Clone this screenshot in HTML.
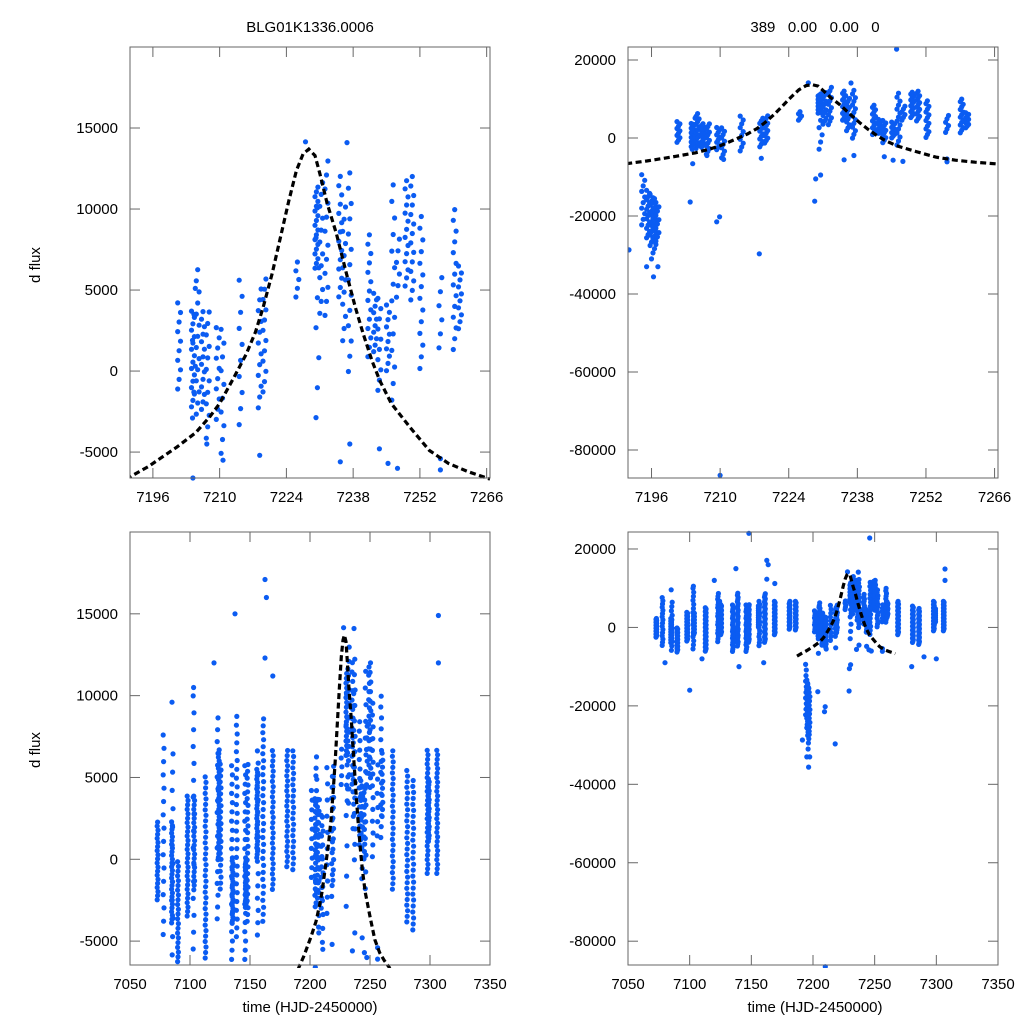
<!DOCTYPE html>
<html><head><meta charset="utf-8"><style>
html,body{margin:0;padding:0;background:#fff;width:1024px;height:1024px;overflow:hidden;}
svg{display:block;}
svg text{font-family:"Liberation Sans",sans-serif;font-size:15px;fill:#000;}
</style></head><body>
<svg id="chart" width="1024" height="1024" viewBox="0 0 1024 1024" xmlns="http://www.w3.org/2000/svg">
<rect x="0" y="0" width="1024" height="1024" fill="#fff"/>
<text x="310" y="32" text-anchor="middle">BLG01K1336.0006</text>
<text x="815" y="32" text-anchor="middle" xml:space="preserve">389   0.00   0.00   0</text>
<text x="40" y="265" text-anchor="middle" transform="rotate(-90 40 265)">d flux</text>
<text x="40" y="750" text-anchor="middle" transform="rotate(-90 40 750)">d flux</text>
<text x="310" y="1012" text-anchor="middle">time (HJD-2450000)</text>
<text x="815" y="1012" text-anchor="middle">time (HJD-2450000)</text>
</svg>
<script>
// nightly clusters: time, low value, high value, count
const nightT=[7073,7078,7085,7085.5,7090,7098,7103,7103.5,7113,7123,7124,7125.5,7135,7135.5,7139,7146,7146.5,7148,7156,7156.5,7161,7169,7181,7186,
7194.3,7195.3,7196.0,7196.6,7197.2,
7201.5,7204.4,7204.6,7205.4,7206.5,7207.5,7209.6,7210.6,7214.4,7218.4,7219.4,7226.3,7230.3,7230.5,7231.3,7232.4,7235.3,7236.1,7237.3,7241.4,7242.6,7243.5,7245.3,7246.4,7247.4,7249.2,7250.4,7252.3,7256.3,7259.3,7260.4,
7269,7281,7286,7298,7299,7306];
const nightLo=[-2600,-5000,-4000,-6400,-6400,-3600,-6000,-2000,-6200,-4000,0,-2000,-6400,-4000,-5000,-6400,-3000,-4000,0,-5000,-4000,-2000,-600,-800,
-23000,-26000,-28000,-30000,-27000,
-1400,-2400,-3700,-3000,-2600,-4500,-3300,-5500,-3800,-2600,-1600,4300,6200,-3800,3200,3000,4300,1500,-500,600,1000,-1500,-200,-2300,4200,5000,4100,-200,1000,1000,2400,
-2000,-4000,-4500,-1000,1000,-1000];
const nightHi=[2400,8000,2400,7000,0,4000,10500,4000,5200,9000,6800,6000,6000,0,9000,6000,0,6000,5600,7000,8800,6800,6800,6800,
-8700,-13000,-14000,-15000,-16000,
4500,3900,5900,6600,3900,4000,3000,3000,6100,5400,6000,7000,11500,11000,12000,13400,12300,10500,12700,8700,5000,4800,4300,12000,8500,12000,12300,9900,6200,10300,6700,
6800,5600,5000,6800,5000,6800];
const nightN=[20,16,28,12,22,28,16,22,34,18,30,22,22,22,26,22,24,24,28,16,30,28,24,22,
10,16,16,14,10,
10,16,6,14,14,12,10,10,10,12,12,5,18,8,12,12,14,12,14,14,10,10,10,14,6,14,14,14,6,14,10,
26,28,26,28,22,28];
// isolated points
const outT=[7195,7196.4,7196,7197.3,7236.7,7204.4,7207.3,7210.7,7218.4,7235.3,7237.3,7243.5,7245.3,7247.3,7256.3,7256.3,7203.9,7209.3,7209.9,7229.3,7229.5,7230.5,7218,7191.4,7210,7246,7148,7100,
7162.5,7163.7,7137.5,7307,7307,7228,7103,7085,7162.5,7169,7080,7110,7140,7160,7300,7290,7280,7120];
const outV=[-33000,-35600,-31000,-33000,14100,-6600,-4500,-5500,-5200,-5600,-4500,-4800,-5700,-6000,-5400,-6100,-16400,-21500,-20200,-16200,-10500,-9500,-29700,-28700,-86500,22800,24000,-16000,
17100,16000,15000,14900,12000,14150,10500,9600,12300,11200,-9000,-8000,-10000,-9000,-8000,-7500,-10000,12000];
// model curve
const curveT=[7187,7191,7195,7198,7201,7205,7208,7210,7213,7215.6,7217.5,7219.1,7221,7222.6,7224.5,7226.1,7227.5,7228.7,7230,7231,7232.5,7234.5,7236.6,7238.5,7240.1,7242,7243.6,7246,7250,7254,7258,7262,7266.7];
const curveV=[-7300,-6560,-5900,-5300,-4700,-3800,-2800,-2000,-400,1050,2400,3900,6000,8050,10500,12370,13400,13700,13300,12200,10400,8460,6000,3900,2300,600,-600,-2000,-3500,-4900,-5700,-6200,-6670];
const xTicksTop=[7196,7210,7224,7238,7252,7266];
const xTicksBot=[7050,7100,7150,7200,7250,7300,7350];
const yTicksSmall=[15000,10000,5000,0,-5000];
const yTicksBig=[20000,0,-20000,-40000,-60000,-80000];

const NS='http://www.w3.org/2000/svg';
const svg=document.getElementById('chart');
function mk(tag,attrs,parent){const e=document.createElementNS(NS,tag);for(const k in attrs)e.setAttribute(k,attrs[k]);(parent||svg).appendChild(e);return e;}

const ptsT=[],ptsV=[];
for(let k=0;k<nightT.length;k++){
  const n=nightN[k];
  for(let i=0;i<n;i++){
    ptsT.push(nightT[k]+((i%3)-1)*0.3);
    ptsV.push(nightLo[k]+(nightHi[k]-nightLo[k])*(i+0.5)/n);
  }
}
for(let i=0;i<outT.length;i++){ptsT.push(outT[i]);ptsV.push(outV[i]);}

const panels=[
 {name:'top-left',x0:130,x1:490,y0:47,y1:478,xr:[7191.2,7266.7],yr:[-6600,20000],xt:xTicksTop,yt:yTicksSmall},
 {name:'top-right',x0:628,x1:998,y0:47,y1:478,xr:[7191.2,7266.7],yr:[-87180,23330],xt:xTicksTop,yt:yTicksBig},
 {name:'bottom-left',x0:130,x1:490,y0:532,y1:965,xr:[7050,7350],yr:[-6460,20000],xt:xTicksBot,yt:yTicksSmall},
 {name:'bottom-right',x0:628,x1:998,y0:532,y1:965,xr:[7050,7350],yr:[-86070,24330],xt:xTicksBot,yt:yTicksBig}
];
const defs=mk('defs',{});
panels.forEach((p,pi)=>{
  const sx=t=>p.x0+(t-p.xr[0])/(p.xr[1]-p.xr[0])*(p.x1-p.x0);
  const sy=v=>p.y1-(v-p.yr[0])/(p.yr[1]-p.yr[0])*(p.y1-p.y0);
  const cp=mk('clipPath',{id:'clip'+pi},defs);
  mk('rect',{x:p.x0,y:p.y0-3,width:p.x1-p.x0,height:p.y1-p.y0+6},cp);
  const g=mk('g',{'clip-path':'url(#clip'+pi+')'});
  
  
  for(let i=0;i<ptsT.length;i++){
    if(ptsT[i]<p.xr[0]-0.5||ptsT[i]>p.xr[1]+0.5)continue;
    const y=sy(ptsV[i]);
    if(y<p.y0-4||y>p.y1+4)continue;
    const c=mk('circle',{cx:sx(ptsT[i]).toFixed(1),cy:y.toFixed(1),r:2.6,fill:'#0b5cf2'},g);
    
    
  }
  let d='';
  for(let i=0;i<curveT.length;i++){d+=(i?'L':'M')+sx(curveT[i]).toFixed(1)+' '+Math.max(p.y0-2,Math.min(p.y1+20,sy(curveV[i]))).toFixed(1);}
  const path=mk('path',{d:d,fill:'none',stroke:'#000','stroke-width':3.2,'stroke-dasharray':'6 3.5'},g);
  
  
  const box=mk('rect',{x:p.x0,y:p.y0,width:p.x1-p.x0,height:p.y1-p.y0,fill:'none',stroke:'#666','stroke-width':1});
  
  
  p.xt.forEach(t=>{
    const x=sx(t);
    mk('line',{x1:x,x2:x,y1:p.y1,y2:p.y1-10,stroke:'#666'});
    mk('line',{x1:x,x2:x,y1:p.y0,y2:p.y0+10,stroke:'#666'});
    const tx=mk('text',{x:x,y:p.y1+24,'text-anchor':'middle'});
    tx.textContent=t;
    
    
  });
  p.yt.forEach(v=>{
    const y=sy(v);
    mk('line',{x1:p.x0,x2:p.x0+10,y1:y,y2:y,stroke:'#666'});
    mk('line',{x1:p.x1,x2:p.x1-10,y1:y,y2:y,stroke:'#666'});
    const tx=mk('text',{x:p.x0-12,y:y+5,'text-anchor':'end'});
    tx.textContent=v;
    
    
  });
});
</script>
</body></html>
